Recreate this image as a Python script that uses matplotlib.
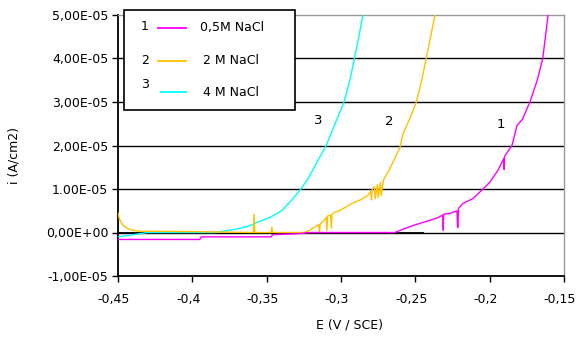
import numpy as np
import matplotlib.pyplot as plt
from matplotlib.patches import Rectangle
from matplotlib.lines import Line2D
from matplotlib.transforms import ScaledTranslation

# potential E (V/SCE) and current density i (x1e-5 A/cm2)
e_05m = [-0.450, -0.395, -0.394, -0.347, -0.346, -0.330, -0.320, -0.2637, -0.258,
         -0.2516, -0.246, -0.2401, -0.235, -0.2315, -0.2312, -0.231, -0.2267,
         -0.222, -0.2216, -0.2213, -0.221, -0.2179, -0.2112, -0.2054, -0.200,
         -0.1944, -0.1905, -0.1903, -0.190, -0.185, -0.1816, -0.178, -0.1729,
         -0.168, -0.1643, -0.1607]
i_05m = [-0.16, -0.16, -0.10, -0.10, -0.05, -0.03, 0.0, 0.0, 0.08,
         0.16, 0.22, 0.28, 0.34, 0.40, 0.05, 0.42, 0.44,
         0.50, 0.12, 0.12, 0.55, 0.67, 0.78, 0.97, 1.15,
         1.43, 1.70, 1.45, 1.75, 2.00, 2.46, 2.60, 3.00,
         3.50, 4.00, 5.00]

e_2m = [-0.450, -0.449, -0.447, -0.444, -0.440, -0.436, -0.400, -0.359, -0.3585,
        -0.358, -0.347, -0.3465, -0.346, -0.325, -0.321, -0.318, -0.315, -0.3145,
        -0.314, -0.312, -0.310, -0.3095, -0.309, -0.307, -0.3065, -0.306, -0.305,
        -0.300, -0.296, -0.292, -0.287, -0.282, -0.280, -0.2795, -0.279, -0.2775,
        -0.277, -0.2755, -0.275, -0.2735, -0.273, -0.2715, -0.2705, -0.2677,
        -0.2603, -0.2583, -0.2540, -0.2496, -0.2460, -0.2430, -0.2400, -0.2368]
i_2m = [0.45, 0.30, 0.18, 0.10, 0.05, 0.03, 0.02, 0.0, 0.42,
        0.0, 0.0, 0.12, 0.0, 0.0, 0.05, 0.12, 0.18, 0.0,
        0.20, 0.25, 0.35, 0.05, 0.38, 0.40, 0.10, 0.42, 0.45,
        0.52, 0.60, 0.68, 0.75, 0.85, 0.95, 0.75, 1.00, 1.05,
        0.78, 1.10, 0.80, 1.15, 0.85, 1.20, 1.27, 1.43,
        1.96, 2.27, 2.60, 2.97, 3.45, 3.95, 4.45, 5.00]

e_4m = [-0.450, -0.430, -0.385, -0.370, -0.362, -0.355, -0.347, -0.340, -0.333,
        -0.327, -0.322, -0.318, -0.314, -0.310, -0.304, -0.298, -0.294, -0.291,
        -0.288, -0.2853]
i_4m = [-0.10, 0.0, 0.0, 0.08, 0.15, 0.25, 0.36, 0.50, 0.75,
        1.00, 1.25, 1.50, 1.75, 2.00, 2.50, 3.00, 3.50, 4.00,
        4.50, 5.00]

e_base = [-0.450, -0.416, np.nan, -0.335, -0.310, np.nan, -0.265, -0.245]
i_base = [0.0, 0.0, np.nan, 0.0, 0.0, np.nan, 0.0, 0.0]

series_labels = ["0,5M NaCl", "2 M NaCl", "4 M NaCl"]
series_numbers = ["1", "2", "3"]
series_colors = ["#FF00FF", "#FFC000", "#00FFFF"]

x_ticks = [-0.45, -0.4, -0.35, -0.3, -0.25, -0.2, -0.15]
x_ticklabels = ["-0,45", "-0,4", "-0,35", "-0,3", "-0,25", "-0,2", "-0,15"]
y_ticks = [-1e-5, 0, 1e-5, 2e-5, 3e-5, 4e-5, 5e-5]
y_ticklabels = ["-1,00E-05", "0,00E+00", "1.00E-05", "2,00E-05", "3,00E-05",
                "4,00E-05", "5,00E-05"]

plt.rcParams["font.family"] = ["DejaVu Sans"]
FS = 9

fig = plt.figure(figsize=(5.78, 3.4), dpi=100)
ax = fig.add_axes([118 / 578, 1 - 276 / 340, (564 - 118) / 578, (276 - 15) / 340])

for y in y_ticks[1:-1]:
    ax.axhline(y, color="black", lw=1.0, zorder=1)

scale = 1e-5
ax.plot(e_base, np.array(i_base) * scale, color="black", lw=1.3, zorder=2)
ax.plot(e_4m, np.array(i_4m) * scale, color=series_colors[2], lw=1.0, zorder=3)
ax.plot(e_2m, np.array(i_2m) * scale, color=series_colors[1], lw=1.0, zorder=4)
ax.plot(e_05m, np.array(i_05m) * scale, color=series_colors[0], lw=1.0, zorder=5)

ax.set_xlim(-0.45, -0.15)
ax.set_ylim(-1e-5, 5e-5)
ax.set_xticks(x_ticks)
ax.set_xticklabels(x_ticklabels, fontsize=FS)
ax.set_yticks(y_ticks)
ax.set_yticklabels(y_ticklabels, fontsize=FS)
ax.tick_params(direction="out", length=4, width=1.0, color="black", pad=3)
ax.tick_params(axis="x", pad=8)

# labels sit a little left of their ticks, as in the original
shift = ScaledTranslation(-4 / 100, 0, fig.dpi_scale_trans)
for lab in ax.get_xticklabels():
    lab.set_transform(lab.get_transform() + shift)

for side in ("left", "bottom"):
    ax.spines[side].set_color("black")
    ax.spines[side].set_linewidth(1.3)
for side in ("top", "right"):
    ax.spines[side].set_color("#999999")
    ax.spines[side].set_linewidth(1.0)

ax.set_xlabel("E (V / SCE)", fontsize=FS)
ax.set_ylabel("i (A/cm2)", fontsize=FS)
ax.xaxis.set_label_coords((349 - 118) / 446, -(325 - 276) / 261)
ax.yaxis.set_label_coords(-(118 - 14) / 446, 1 - (155 - 15) / 261)
ax.xaxis.label.set_va("center")
ax.yaxis.label.set_va("center")

# curve numbers
ax.text(-0.3155, 2.57e-5, "3", fontsize=FS + 0.5, ha="center", va="center")
ax.text(-0.2677, 2.55e-5, "2", fontsize=FS + 0.5, ha="center", va="center")
ax.text(-0.1924, 2.48e-5, "1", fontsize=FS + 0.5, ha="center", va="center")

# legend box drawn by hand (it sticks out above the axes)
bx0, bx1 = 124, 295
by0, by1 = 10, 110


def ax_xy(px, py):
    return (px - 118) / 446, 1 - (py - 15) / 261


x0, y0 = ax_xy(bx0, by1)
x1, y1 = ax_xy(bx1, by0)
ax.add_patch(Rectangle((x0, y0), x1 - x0, y1 - y0, transform=ax.transAxes,
                       facecolor="white", edgecolor="black", lw=1.2,
                       clip_on=False, zorder=10))
rows_y = [28, 61, 92]
num_y = [27, 60, 85]
for k in range(3):
    nx, ny = ax_xy(145, num_y[k])
    ax.text(nx, ny, series_numbers[k], transform=ax.transAxes, fontsize=FS,
            ha="center", va="center", zorder=11)
    lx0, ly = ax_xy(158 if k < 2 else 161, rows_y[k])
    lx1, _ = ax_xy(186, rows_y[k])
    ax.add_line(Line2D([lx0, lx1], [ly, ly], transform=ax.transAxes,
                       color=series_colors[k], lw=1.3, clip_on=False, zorder=11))
    tx, ty = ax_xy(200 if k == 0 else 203, rows_y[k])
    ax.text(tx, ty, series_labels[k], transform=ax.transAxes, fontsize=FS,
            ha="left", va="center", zorder=11)

fig.savefig("out.png", dpi=100)
